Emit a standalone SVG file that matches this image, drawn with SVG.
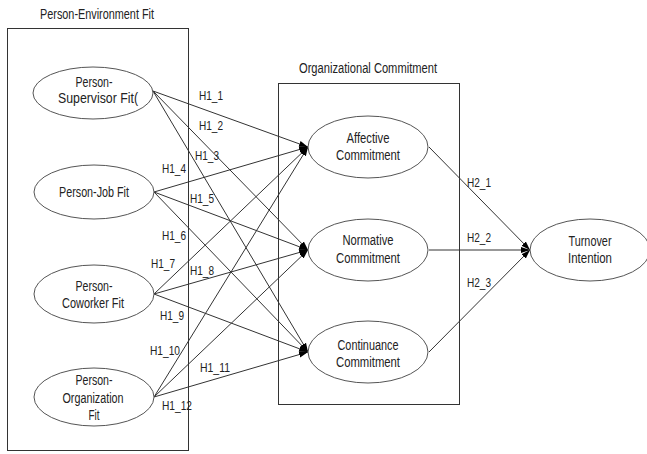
<svg xmlns="http://www.w3.org/2000/svg" width="647" height="454" viewBox="0 0 647 454">
<defs>
<style>
text{font-family:"Liberation Sans",Arial,sans-serif;font-size:14px;fill:#222}
.c text{font-size:13px}
.n{text-anchor:middle}
.box{fill:none;stroke:#333;stroke-width:1}
ellipse{fill:#fff;stroke:#555;stroke-width:1}
.c line{stroke:#333;stroke-width:1;marker-end:url(#ah)}
</style>
<marker id="ah" markerUnits="userSpaceOnUse" markerWidth="10" markerHeight="8" refX="9" refY="4" orient="auto">
<path d="M0,1 L9,4 L0,7 Z" fill="#000"/>
</marker>
</defs>
<rect width="647" height="454" fill="#fff"/>
<g id="pe-fit-box">
<rect class="box" x="7.5" y="28.5" width="181" height="422"/>
<text class="n" x="97" y="19" textLength="114" lengthAdjust="spacingAndGlyphs">Person-Environment Fit</text>
</g>
<g id="oc-box">
<rect class="box" x="278.5" y="83.5" width="181" height="321"/>
<text class="n" x="368" y="73" textLength="138" lengthAdjust="spacingAndGlyphs">Organizational Commitment</text>
</g>
<g class="c" id="connectors">
<line x1="153" y1="91" x2="308" y2="147"/>
<line x1="153" y1="91" x2="308" y2="250"/>
<line x1="153" y1="91" x2="308" y2="352"/>
<line x1="154" y1="192" x2="308" y2="147"/>
<line x1="154" y1="192" x2="308" y2="250"/>
<line x1="154" y1="192" x2="308" y2="352"/>
<line x1="154" y1="294" x2="308" y2="147"/>
<line x1="154" y1="294" x2="308" y2="250"/>
<line x1="154" y1="294" x2="308" y2="352"/>
<line x1="154" y1="397" x2="308" y2="147"/>
<line x1="154" y1="397" x2="308" y2="250"/>
<line x1="154" y1="397" x2="308" y2="352"/>
<line x1="429" y1="147" x2="530" y2="250"/>
<line x1="429" y1="250" x2="530" y2="250"/>
<line x1="429" y1="352" x2="530" y2="250"/>
<text x="199" y="100" textLength="24" lengthAdjust="spacingAndGlyphs">H1_1</text>
<text x="199" y="130" textLength="24" lengthAdjust="spacingAndGlyphs">H1_2</text>
<text x="195" y="160" textLength="24" lengthAdjust="spacingAndGlyphs">H1_3</text>
<text x="162" y="173" textLength="24" lengthAdjust="spacingAndGlyphs">H1_4</text>
<text x="190" y="203" textLength="24" lengthAdjust="spacingAndGlyphs">H1_5</text>
<text x="162" y="240" textLength="24" lengthAdjust="spacingAndGlyphs">H1_6</text>
<text x="151" y="268" textLength="24" lengthAdjust="spacingAndGlyphs">H1_7</text>
<text x="190" y="275" textLength="24" lengthAdjust="spacingAndGlyphs">H1_8</text>
<text x="160" y="320" textLength="24" lengthAdjust="spacingAndGlyphs">H1_9</text>
<text x="150" y="355" textLength="30" lengthAdjust="spacingAndGlyphs">H1_10</text>
<text x="200" y="372" textLength="30" lengthAdjust="spacingAndGlyphs">H1_11</text>
<text x="162" y="410" textLength="30" lengthAdjust="spacingAndGlyphs">H1_12</text>
<text x="467" y="187" textLength="24" lengthAdjust="spacingAndGlyphs">H2_1</text>
<text x="467" y="242" textLength="24" lengthAdjust="spacingAndGlyphs">H2_2</text>
<text x="467" y="287" textLength="24" lengthAdjust="spacingAndGlyphs">H2_3</text>
</g>
<g id="person-supervisor">
<ellipse cx="93" cy="93" rx="60" ry="26"/>
<text class="n" x="94" y="87" textLength="37" lengthAdjust="spacingAndGlyphs">Person-</text>
<text class="n" x="98" y="103" textLength="80" lengthAdjust="spacingAndGlyphs">Supervisor Fit(</text>
</g>
<g id="person-job">
<ellipse cx="94" cy="192" rx="60" ry="27"/>
<text class="n" x="94" y="197" textLength="70" lengthAdjust="spacingAndGlyphs">Person-Job Fit</text>
</g>
<g id="person-coworker">
<ellipse cx="94" cy="294" rx="60" ry="29"/>
<text class="n" x="94" y="291" textLength="37" lengthAdjust="spacingAndGlyphs">Person-</text>
<text class="n" x="93" y="308" textLength="62" lengthAdjust="spacingAndGlyphs">Coworker Fit</text>
</g>
<g id="person-organization">
<ellipse cx="94" cy="397" rx="60" ry="29"/>
<text class="n" x="94" y="385" textLength="37" lengthAdjust="spacingAndGlyphs">Person-</text>
<text class="n" x="93" y="403" textLength="61" lengthAdjust="spacingAndGlyphs">Organization</text>
<text class="n" x="94" y="420" textLength="11" lengthAdjust="spacingAndGlyphs">Fit</text>
</g>
<g id="affective">
<ellipse cx="368" cy="147" rx="60" ry="31"/>
<text class="n" x="368" y="143" textLength="43" lengthAdjust="spacingAndGlyphs">Affective</text>
<text class="n" x="368" y="160" textLength="64" lengthAdjust="spacingAndGlyphs">Commitment</text>
</g>
<g id="normative">
<ellipse cx="368" cy="250" rx="60" ry="31"/>
<text class="n" x="368" y="245" textLength="51" lengthAdjust="spacingAndGlyphs">Normative</text>
<text class="n" x="368" y="263" textLength="64" lengthAdjust="spacingAndGlyphs">Commitment</text>
</g>
<g id="continuance">
<ellipse cx="368" cy="352" rx="60" ry="31"/>
<text class="n" x="368" y="350" textLength="61" lengthAdjust="spacingAndGlyphs">Continuance</text>
<text class="n" x="368" y="367" textLength="64" lengthAdjust="spacingAndGlyphs">Commitment</text>
</g>
<g id="turnover">
<ellipse cx="590" cy="250" rx="60" ry="31"/>
<text class="n" x="590" y="246" textLength="43" lengthAdjust="spacingAndGlyphs">Turnover</text>
<text class="n" x="590" y="263" textLength="44" lengthAdjust="spacingAndGlyphs">Intention</text>
</g>
</svg>
